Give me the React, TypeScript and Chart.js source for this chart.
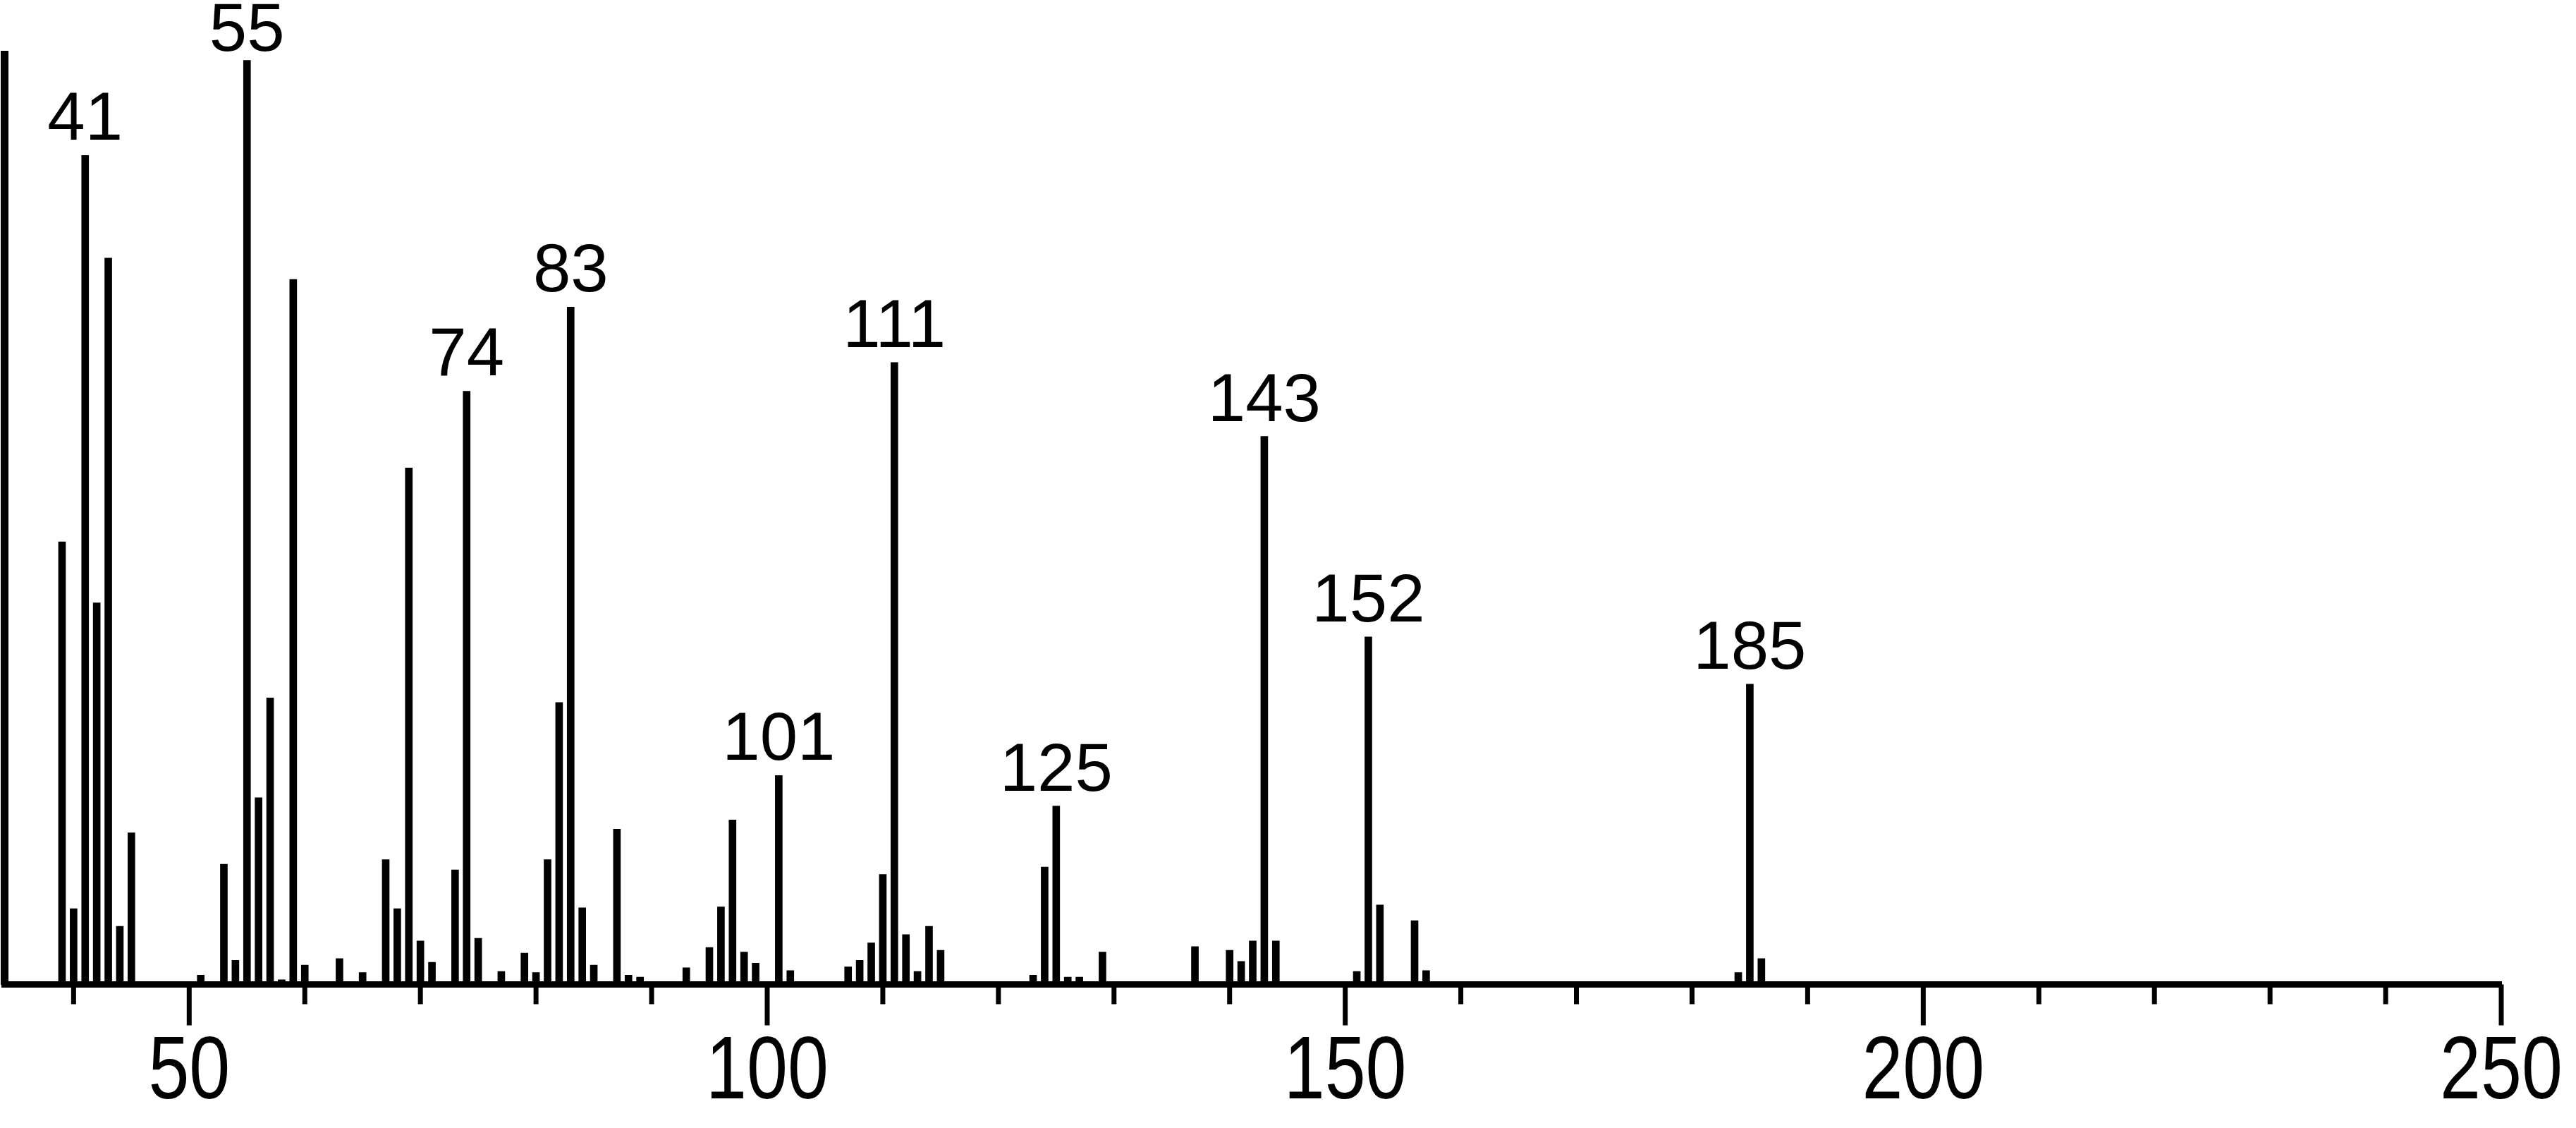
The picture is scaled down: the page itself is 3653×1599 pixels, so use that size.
import React, { useEffect, useRef } from "react";
import { Chart, registerables } from "chart.js";

Chart.register(...registerables);

// m/z values of the spectrum lines
const mzValues = [
  39, 40, 41, 42, 43, 44, 45, 51, 53, 54, 55, 56, 57, 58, 59, 60, 63, 65, 67, 68,
  69, 70, 71, 73, 74, 75, 77, 79, 80, 81, 82, 83, 84, 85, 87, 88, 89, 93, 95, 96,
  97, 98, 99, 101, 102, 107, 108, 109, 110, 111, 112, 113, 114, 115, 123, 124, 125,
  126, 127, 129, 137, 140, 141, 142, 143, 144, 151, 152, 153, 156, 157, 184, 185, 186,
];

// relative intensities (%), base peak m/z 55 = 100
const intensities = [
  47.9, 8.2, 89.7, 41.3, 78.6, 6.3, 16.4, 1.0, 13.0, 2.6, 100, 20.2, 31.0, 0.5, 76.3, 2.1, 2.8, 1.3, 13.5, 8.2,
  55.9, 4.7, 2.4, 12.4, 64.2, 5.0, 1.4, 3.4, 1.3, 13.5, 30.5, 73.3, 8.3, 2.1, 16.8, 1.0, 0.8, 1.8, 4.0, 8.4,
  17.8, 3.5, 2.3, 22.6, 1.5, 1.9, 2.6, 4.5, 11.9, 67.3, 5.4, 1.4, 6.3, 3.7, 1.0, 12.7, 19.3,
  0.8, 0.8, 3.5, 4.1, 3.7, 2.5, 4.7, 59.3, 4.7, 1.4, 37.6, 8.6, 6.9, 1.5, 1.3, 32.5, 2.8,
];

// peaks annotated with their m/z
const labeledPeaks = [41, 55, 74, 83, 101, 111, 125, 143, 152, 185];

// x-axis tick positions (every 10) and the labelled ones
const xTickValues = [40, 50, 60, 70, 80, 90, 100, 110, 120, 130, 140, 150, 160, 170, 180, 190, 200, 210, 220, 230, 240, 250];
const xTickLabels = [50, 100, 150, 200, 250];

const X_MIN = 34;
const X_MAX = 250;
const Y_MAX = 100.65;

export default function App() {
  const canvasRef = useRef<HTMLCanvasElement | null>(null);

  useEffect(() => {
    const canvas = canvasRef.current;
    if (!canvas) return;

    const annotatePlugin = {
      id: "msAnnotate",
      afterDatasetsDraw(chart: any) {
        const { ctx, chartArea } = chart;
        const xs = chart.scales.x;
        ctx.save();
        // axis tick marks (minor every 10, major every 50) and labels
        ctx.strokeStyle = "#000";
        ctx.fillStyle = "#000";
        ctx.lineWidth = 7;
        for (const t of xs.ticks) {
          const px = xs.getPixelForValue(t.value);
          const major = xTickLabels.includes(t.value);
          const len = major ? 58 : 28;
          ctx.beginPath();
          ctx.moveTo(px, chartArea.bottom);
          ctx.lineTo(px, chartArea.bottom + len);
          ctx.stroke();
          if (major) {
            ctx.save();
            ctx.translate(px, chartArea.bottom + 161.5);
            ctx.scale(0.82, 1);
            ctx.font = '127px "Liberation Sans", Arial, sans-serif';
            ctx.textAlign = "center";
            ctx.textBaseline = "alphabetic";
            ctx.fillText(String(t.value), 0, 0);
            ctx.restore();
          }
        }
        // peak labels
        const meta = chart.getDatasetMeta(0);
        ctx.font = '96px "Liberation Sans", Arial, sans-serif';
        ctx.textAlign = "center";
        ctx.textBaseline = "alphabetic";
        labeledPeaks.forEach((m) => {
          const i = mzValues.indexOf(m);
          const el = meta.data[i];
          if (!el) return;
          const y = Math.max(el.y - 22, 72);
          ctx.fillText(String(m), el.x, y);
        });
        ctx.restore();
      },
    };

    const chart = new Chart(canvas, {
      type: "bar",
      data: {
        datasets: [
          {
            data: mzValues.map((m, i) => ({ x: m, y: intensities[i] })),
            backgroundColor: "#000",
            borderWidth: 0,
            barThickness: 10,
          },
        ],
      },
      options: {
        animation: false,
        responsive: true,
        maintainAspectRatio: false,
        layout: { autoPadding: false, padding: { top: 77, right: 106, left: 0, bottom: 0 } },
        plugins: {
          legend: { display: false },
          tooltip: { enabled: false },
        },
        scales: {
          x: {
            type: "linear",
            min: X_MIN,
            max: X_MAX,
            offset: false,
            grid: { display: false, drawTicks: false },
            border: { display: true, color: "#000", width: 9 },
            ticks: { display: false },
            afterBuildTicks: (s: any) => {
              s.ticks = xTickValues.map((v) => ({ value: v }));
            },
            afterFit: (s: any) => {
              s.height = 203.5;
              s.paddingLeft = 0;
              s.paddingRight = 0;
            },
          },
          y: {
            type: "linear",
            min: 0,
            max: Y_MAX,
            grid: { display: false, drawTicks: false },
            border: { display: true, color: "#000", width: 11 },
            ticks: { display: false },
            afterFit: (s: any) => {
              s.width = 6;
              s.paddingTop = 0;
              s.paddingBottom = 0;
            },
          },
        },
      },
      plugins: [annotatePlugin],
    });

    return () => chart.destroy();
  }, []);

  return (
    <div
      style={{
        position: "fixed",
        left: 0,
        top: 0,
        width: "3653px",
        height: "1599px",
        background: "#fff",
      }}
    >
      <canvas ref={canvasRef} />
    </div>
  );
}
